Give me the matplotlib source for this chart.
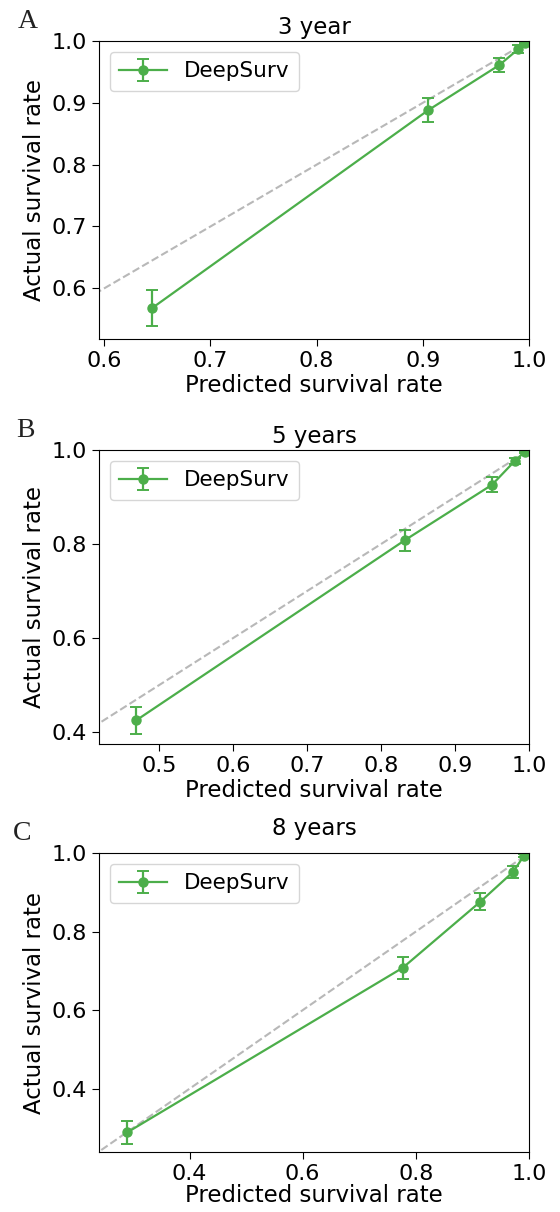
import matplotlib
matplotlib.use("Agg")
import matplotlib.pyplot as plt

W, H = 560, 1212

TITLES = ["3 year", "5 years", "8 years"]
LETTERS = ["A", "B", "C"]

# predicted, actual, error (half width) per horizon
PRED_3Y = [0.645, 0.905, 0.972, 0.990, 0.996]
ACT_3Y = [0.568, 0.888, 0.961, 0.987, 0.997]
ERR_3Y = [0.029, 0.019, 0.011, 0.007, 0.002]

PRED_5Y = [0.469, 0.832, 0.950, 0.981, 0.994]
ACT_5Y = [0.425, 0.808, 0.926, 0.977, 0.996]
ERR_5Y = [0.029, 0.022, 0.016, 0.006, 0.002]

PRED_8Y = [0.290, 0.777, 0.914, 0.972, 0.991]
ACT_8Y = [0.289, 0.708, 0.876, 0.952, 0.993]
ERR_8Y = [0.029, 0.028, 0.021, 0.015, 0.004]

Y_TICKS = [[0.6, 0.7, 0.8, 0.9, 1.0], [0.4, 0.6, 0.8, 1.0], [0.4, 0.6, 0.8, 1.0]]
X_TICKS = [[0.6, 0.7, 0.8, 0.9, 1.0], [0.5, 0.6, 0.7, 0.8, 0.9, 1.0], [0.4, 0.6, 0.8, 1.0]]

# axes boxes in pixels: left, right, top, bottom
BOXES = [(99, 529, 41, 339), (99, 529, 450, 744), (99, 529, 853, 1152)]
LETTER_POS = [(28, 22), (25, 431), (22, 834)]
TITLE_PAD = [5, 5, 13]
XLABEL_PAD = [2, 2, 0]

GREEN = "#4cae4a"
FS_TICK = 16
FS_LABEL = 16.5
FS_LEG = 15.5

fig = plt.figure(figsize=(W / 100, H / 100), dpi=100)

data = [(PRED_3Y, ACT_3Y, ERR_3Y), (PRED_5Y, ACT_5Y, ERR_5Y), (PRED_8Y, ACT_8Y, ERR_8Y)]

for i, (pred, act, err) in enumerate(data):
    l, r, t, b = BOXES[i]
    ax = fig.add_axes([l / W, 1 - b / H, (r - l) / W, (b - t) / H])
    ax.plot([0, 1], [0, 1], linestyle="--", color="#b8b8b8", linewidth=1.5)
    ax.errorbar(pred, act, yerr=err, fmt="-o", color=GREEN, linewidth=1.6,
                markersize=6.5, capsize=4.5, elinewidth=1.6, capthick=1.4,
                label="DeepSurv")
    ax.set_xlim(min(pred) - 0.05, 1.0)
    ax.set_ylim(min(act) - 0.05, 1.0)
    ax.set_xticks(X_TICKS[i])
    ax.set_yticks(Y_TICKS[i])
    ax.tick_params(labelsize=FS_TICK, length=5)
    ax.set_xlabel("Predicted survival rate", fontsize=FS_LABEL, labelpad=XLABEL_PAD[i])
    ax.set_ylabel("Actual survival rate", fontsize=FS_LABEL, labelpad=4)
    ax.set_title(TITLES[i], fontsize=FS_LABEL, pad=TITLE_PAD[i])
    ax.legend(loc="upper left", fontsize=FS_LEG, borderpad=0.45, handlelength=2.2)
    lx, ly = LETTER_POS[i]
    fig.text(lx / W, 1 - ly / H, LETTERS[i], fontsize=20, family="Liberation Serif",
             ha="center", va="center", color="#222222")

fig.savefig("out.png", dpi=100)
